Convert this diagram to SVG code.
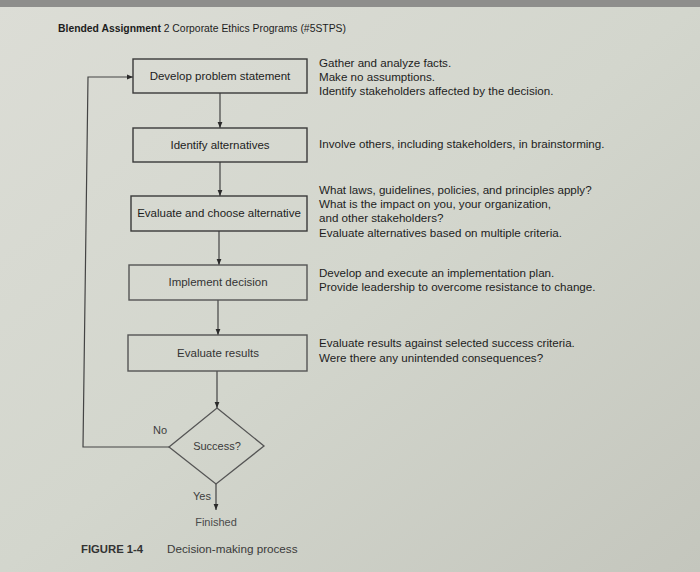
<svg xmlns="http://www.w3.org/2000/svg" width="700" height="572" viewBox="0 0 700 572">
<defs>
<linearGradient id="bg" x1="0" y1="0" x2="1" y2="1">
<stop offset="0" stop-color="#dcddd6"/>
<stop offset="0.5" stop-color="#d3d6cd"/>
<stop offset="1" stop-color="#c4c6bd"/>
</linearGradient>
<marker id="ah" viewBox="0 0 10 10" refX="10" refY="5" markerWidth="6" markerHeight="6" orient="auto" markerUnits="userSpaceOnUse">
<path d="M0,1 L10,5 L0,9 z" fill="#2a2a2a"/>
</marker>
<style>
text{font-family:"Liberation Sans",Arial,sans-serif;fill:#1d1d1d}
.box{fill:none;stroke:#3a3a3a;stroke-width:1.4}
.lbl{font-size:11.5px;text-anchor:middle}
.note{font-size:11.6px}
.con{fill:none;stroke:#444;stroke-width:1.2}
.gray{fill:#3d3d3d;font-size:11px}
</style>
</defs>
<rect width="700" height="572" fill="url(#bg)"/>
<rect width="700" height="7" fill="#8e8e8c"/>
<text x="58" y="32" style="font-size:11px" textLength="288" lengthAdjust="spacingAndGlyphs"><tspan font-weight="bold">Blended Assignment</tspan> 2 Corporate Ethics Programs (#5STPS)</text>

<g id="connectors">
<line class="con" x1="220" y1="93" x2="220" y2="128" marker-end="url(#ah)"/>
<line class="con" x1="220" y1="162" x2="220" y2="196" marker-end="url(#ah)"/>
<line class="con" x1="219" y1="231" x2="219" y2="265" marker-end="url(#ah)"/>
<line class="con" x1="218" y1="300" x2="218" y2="335" marker-end="url(#ah)"/>
<line class="con" x1="217" y1="371" x2="217" y2="408" marker-end="url(#ah)"/>
<polyline class="con" points="169,447 83,447 88,77 133,77" marker-end="url(#ah)"/>
<line class="con" x1="216" y1="484" x2="216" y2="510" marker-end="url(#ah)"/>
<text x="153" y="434" class="gray">No</text>
<text x="193" y="500" class="gray">Yes</text>
</g>

<g id="n1"><rect class="box" x="133" y="59" width="174" height="34"/><text class="lbl" x="220" y="80">Develop problem statement</text></g>
<g id="n2"><rect class="box" x="133" y="128" width="174" height="34"/><text class="lbl" x="220" y="149">Identify alternatives</text></g>
<g id="n3"><rect class="box" x="131" y="196" width="176" height="35"/><text class="lbl" x="219" y="217">Evaluate and choose alternative</text></g>
<g id="n4"><rect class="box" x="129" y="265" width="178" height="35" style="stroke:#555"/><text class="lbl" x="218" y="286" style="fill:#333">Implement decision</text></g>
<g id="n5"><rect class="box" x="128" y="335" width="179" height="36" style="stroke:#555"/><text class="lbl" x="218" y="357" style="fill:#333">Evaluate results</text></g>
<g id="n6"><polygon points="217,408 264,446 216,484 169,447" fill="none" stroke="#555" stroke-width="1.3"/><text class="lbl" x="217" y="450" style="fill:#3a3a3a;font-size:11px">Success?</text></g>
<g id="n7"><text class="lbl" x="216" y="526" style="fill:#4a4a4a;font-size:11px">Finished</text></g>

<g id="notes">
<text class="note" x="319" y="67">Gather and analyze facts.</text>
<text class="note" x="319" y="81">Make no assumptions.</text>
<text class="note" x="319" y="95">Identify stakeholders affected by the decision.</text>
<text class="note" x="319" y="148">Involve others, including stakeholders, in brainstorming.</text>
<text class="note" x="319" y="194">What laws, guidelines, policies, and principles apply?</text>
<text class="note" x="319" y="208">What is the impact on you, your organization,</text>
<text class="note" x="319" y="222">and other stakeholders?</text>
<text class="note" x="319" y="237">Evaluate alternatives based on multiple criteria.</text>
<text class="note" x="319" y="277">Develop and execute an implementation plan.</text>
<text class="note" x="319" y="291">Provide leadership to overcome resistance to change.</text>
<text class="note" x="319" y="347">Evaluate results against selected success criteria.</text>
<text class="note" x="319" y="362">Were there any unintended consequences?</text>
</g>

<g id="caption">
<text x="81" y="553" style="font-size:11.3px;font-weight:bold;fill:#333">FIGURE 1-4</text>
<text x="167" y="553" style="font-size:11.7px;fill:#3a3a3a">Decision-making process</text>
</g>
</svg>
